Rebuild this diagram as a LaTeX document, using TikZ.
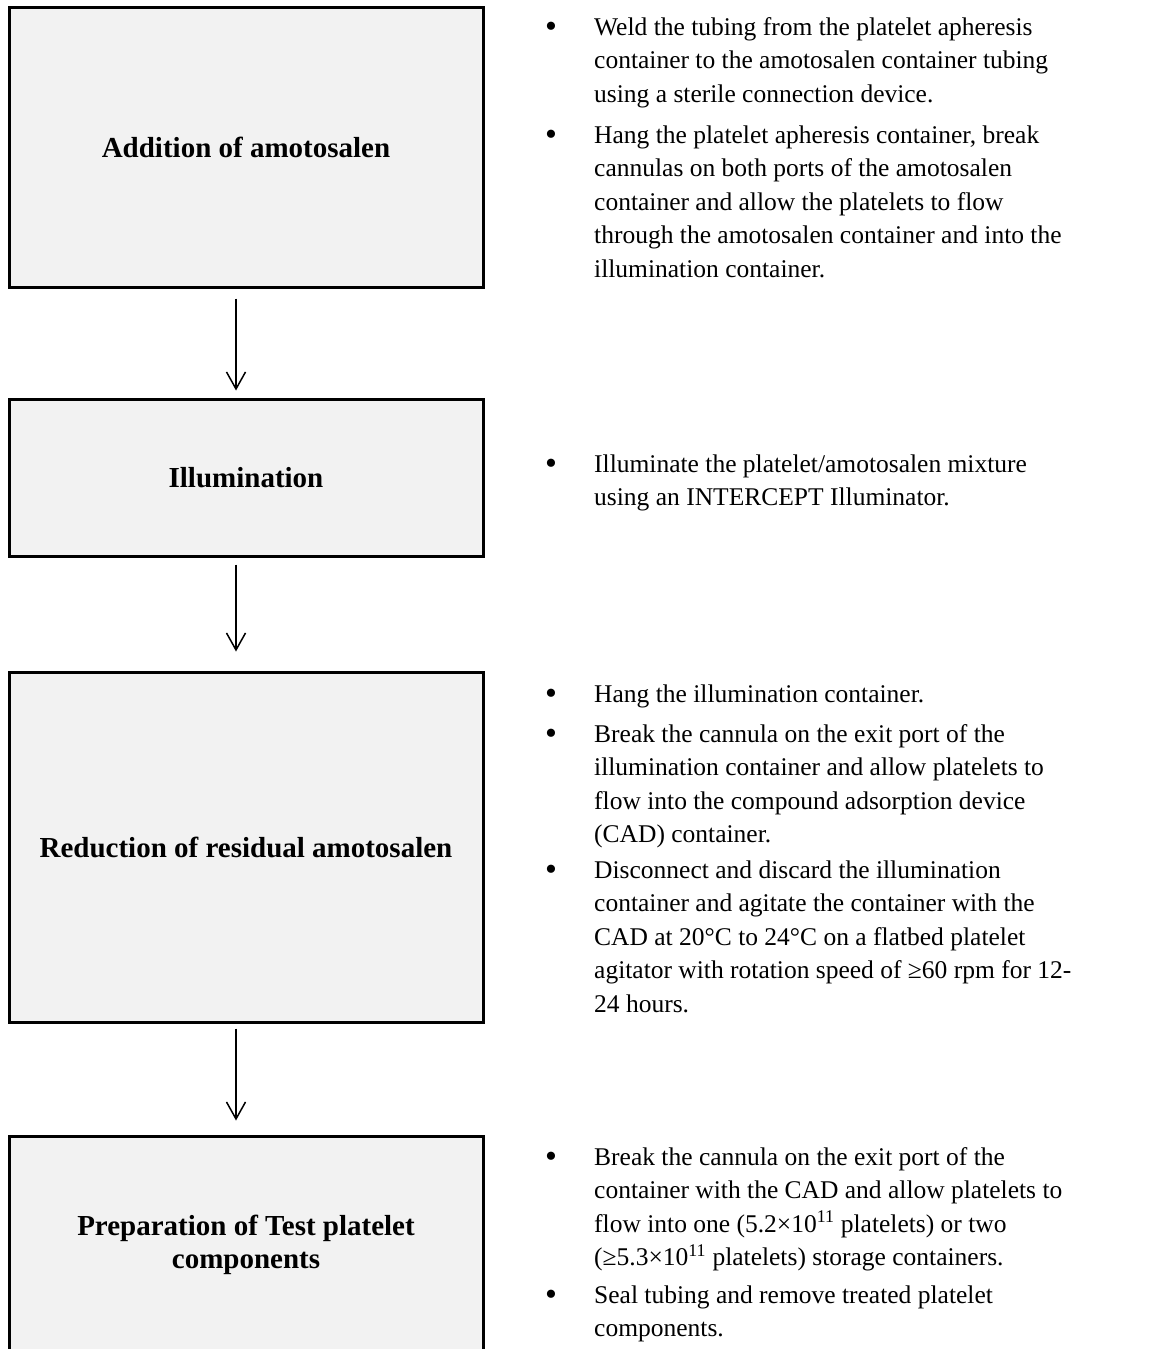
\documentclass[tikz,border=0pt]{standalone}
\usepackage{fontspec}
\setmainfont{Liberation Serif}
\usetikzlibrary{arrows.meta}
\definecolor{boxfill}{HTML}{F2F2F2}
\newcommand{\bodyfont}{\fontsize{25.5}{33.5}\selectfont}
\newcommand{\headfont}{\fontsize{29}{33}\selectfont}
\newcommand{\txtlines}[1]{\begin{tabular}[t]{@{}l@{}}#1\end{tabular}}
\tikzset{
  box/.style={draw=black, line width=3pt, fill=boxfill, minimum width=474pt,
    inner sep=0pt, align=center, font=\bfseries\headfont},
  arr/.style={line width=1.5pt, -{Straight Barb[length=17pt,width=19pt,line width=1.5pt]}},
  bul/.style={anchor=base, inner sep=0pt, yshift=-2.5pt, font=\fontsize{34}{34}\selectfont},
  para/.style={anchor=base west, inner sep=0pt, font=\bodyfont},
}
\begin{document}
\begin{tikzpicture}[x=1pt,y=-1pt]
\useasboundingbox (0,0) rectangle (1150,1349);
% boxes
\node[box, minimum height=280pt] (b1) at (246,147) {Addition of amotosalen};
\node[box, minimum height=157pt] (b2) at (246,477.5) {Illumination};
\node[box, minimum height=350pt] (b3) at (246,847) {Reduction of residual amotosalen};
\node[box, minimum height=218pt] (b4) at (246,1245) {Preparation of Test platelet\\components};
% arrows
\draw[arr] ([xshift=-10pt,yshift=-10pt]b1.south) -- ([xshift=-10pt,yshift=7pt]b2.north);
\draw[arr] ([xshift=-10pt,yshift=-7pt]b2.south) -- ([xshift=-10pt,yshift=19pt]b3.north);
\draw[arr] ([xshift=-10pt,yshift=-5pt]b3.south) -- ([xshift=-10pt,yshift=14pt]b4.north);
% block 1
\node[bul] (u1) at (551,35) {•};
\node[para] (p1) at (594,35) {\txtlines{Weld the tubing from the platelet apheresis\\container to the amotosalen container tubing\\using a sterile connection device.}};
\node[bul] (u2) at (551,143) {•};
\node[para] (p2) at (594,143) {\txtlines{Hang the platelet apheresis container, break\\cannulas on both ports of the amotosalen\\container and allow the platelets to flow\\through the amotosalen container and into the\\illumination container.}};
% block 2
\node[bul] (u3) at (551,472) {•};
\node[para] (p3) at (594,472) {\txtlines{Illuminate the platelet/amotosalen mixture\\using an INTERCEPT Illuminator.}};
% block 3
\node[bul] (u4) at (551,702) {•};
\node[para] (p4) at (594,702) {\txtlines{Hang the illumination container.}};
\node[bul] (u5) at (551,742) {•};
\node[para] (p5) at (594,742) {\txtlines{Break the cannula on the exit port of the\\illumination container and allow platelets to\\flow into the compound adsorption device\\(CAD) container.}};
\node[bul] (u6) at (551,878) {•};
\node[para] (p6) at (594,878) {\txtlines{Disconnect and discard the illumination\\container and agitate the container with the\\CAD at 20°C to 24°C on a flatbed platelet\\agitator with rotation speed of ≥60 rpm for 12-\\24 hours.}};
% block 4
\node[bul] (u7) at (551,1165) {•};
\node[para] (p7) at (594,1165) {\txtlines{Break the cannula on the exit port of the\\container with the CAD and allow platelets to\\flow into one (5.2×10\textsuperscript{11} platelets) or two\\(≥5.3×10\textsuperscript{11} platelets) storage containers.}};
\node[bul] (u8) at (551,1303) {•};
\node[para] (p8) at (594,1303) {\txtlines{Seal tubing and remove treated platelet\\components.}};
\end{tikzpicture}
\end{document}
